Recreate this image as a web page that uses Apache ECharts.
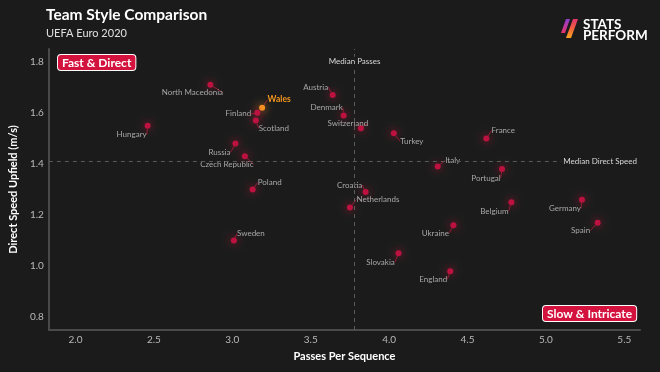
<!DOCTYPE html>
<html><head><meta charset="utf-8">
<script src="https://cdn.jsdelivr.net/npm/echarts@6/dist/echarts.min.js"></script>
<style>html,body{margin:0;padding:0;background:#1b1b1b}#c{width:660px;height:372px}</style>
</head><body><div id="c"></div>
<script>
var teams = ['North Macedonia','Wales','Finland','Scotland','Hungary','Austria','Denmark','Switzerland','Turkey','France','Russia','Czech Republic','Italy','Portugal','Poland','Croatia','Netherlands','Belgium','Germany','Spain','Ukraine','Sweden','Slovakia','England'];
var passesPerSequence = [2.86,3.19,3.16,3.15,2.46,3.64,3.71,3.82,4.03,4.62,3.02,3.08,4.31,4.72,3.13,3.85,3.75,4.78,5.23,5.33,4.41,3.01,4.06,4.39];
var directSpeed = [1.71,1.62,1.60,1.57,1.55,1.67,1.59,1.54,1.52,1.50,1.48,1.43,1.39,1.38,1.30,1.29,1.23,1.25,1.26,1.17,1.16,1.10,1.05,0.98];
var medianPasses = 3.78;
var medianSpeed = 1.41;
var xTicks = [2.0,2.5,3.0,3.5,4.0,4.5,5.0,5.5];
var yTicks = [0.8,1.0,1.2,1.4,1.6,1.8];
var highlight = 'Wales';

// label offsets (px) from each dot to its label centre
var labelOffsets = {
 'North Macedonia':[-18,8],'Wales':[17,-8],'Finland':[-19,1],'Scotland':[18,8],'Hungary':[-16,9],
 'Austria':[-17,-8],'Denmark':[-17,-8],'Switzerland':[-13,-5],'Turkey':[18,8],'France':[17,-8],
 'Russia':[-16,9],'Czech Republic':[-18,8],'Italy':[15,-6],'Portugal':[-16,9],'Poland':[17,-7],
 'Croatia':[-16,-7],'Netherlands':[28,-8],'Belgium':[-17,9],'Germany':[-17,9],'Spain':[-17,8],
 'Ukraine':[-18,8],'Sweden':[17,-7],'Slovakia':[-18,9],'England':[-17,8]
};

var FONT = 'Lato, "Open Sans", sans-serif';
var data = teams.map(function(n,i){
  var item = {name:n, value:[passesPerSequence[i], directSpeed[i]]};
  if(n===highlight){
    item.itemStyle = {color:'#f7961f', shadowColor:'rgba(255,150,30,0.9)', shadowBlur:8};
    item.label = {color:'#f7961f', fontWeight:'bold', fontSize:8.5};
    item.z = 10;
  }
  return item;
});

var chart = echarts.init(document.getElementById('c'));
chart.setOption({
  backgroundColor:'#1b1b1b',
  animation:false,
  textStyle:{fontFamily:FONT},
  grid:{left:46, right:20, top:49, bottom:42},
  xAxis:{type:'value', min:1.83, max:5.6,
    name:'Passes Per Sequence', nameLocation:'middle', nameGap:21,
    nameTextStyle:{color:'#ffffff', fontWeight:'bold', fontSize:11, fontFamily:FONT},
    axisLine:{show:true, lineStyle:{color:'#4a4a4a', width:2}},
    axisTick:{show:false}, splitLine:{show:false},
    axisLabel:{color:'#b8b8b8', fontSize:10, margin:5, customValues:xTicks, formatter:function(v){return v.toFixed(1);}}
  },
  yAxis:{type:'value', min:0.75, max:1.85,
    name:'Direct Speed Upfield (m/s)', nameLocation:'middle', nameGap:27,
    nameTextStyle:{color:'#ffffff', fontWeight:'bold', fontSize:11, fontFamily:FONT},
    axisLine:{show:true, lineStyle:{color:'#4a4a4a', width:2}},
    axisTick:{show:false}, splitLine:{show:false},
    axisLabel:{color:'#b8b8b8', fontSize:10, margin:5, customValues:yTicks, formatter:function(v){return v.toFixed(1);}}
  },
  series:[{
    type:'scatter', symbolSize:6, data:data,
    itemStyle:{color:'#bd1240', shadowColor:'rgba(210,20,60,0.8)', shadowBlur:9, opacity:1},
    label:{show:true, position:'inside', formatter:'{b}', color:'#a8a8a8', fontSize:8, fontFamily:FONT},
    labelLine:{show:true, length2:0, lineStyle:{color:'rgba(190,30,60,0.7)', width:1}},
    labelLayout:function(p){
      var o = labelOffsets[teams[p.dataIndex]] || [0,0];
      return {dx:o[0], dy:o[1]};
    },
    markLine:{silent:true, symbol:'none',
      lineStyle:{color:'#5a5a5a', type:[4,4], width:1},
      label:{show:false},
      data:[{xAxis:medianPasses},{yAxis:medianSpeed}]
    },
    markPoint:{silent:true, symbol:'circle', symbolSize:0,
      data:[
        {coord:[medianPasses,1.8], label:{show:true, position:'inside', formatter:'Median Passes', color:'#d8d8d8', fontSize:8, backgroundColor:'#1b1b1b', padding:[1,2]}},
        {coord:[5.6,medianSpeed], label:{show:true, position:'inside', align:'right', offset:[-1,0], formatter:'Median Direct Speed', color:'#d8d8d8', fontSize:8, backgroundColor:'#1b1b1b', padding:[1,2]}}
      ]
    }
  }],
  graphic:[
    {type:'text', left:46, top:7, style:{text:'Team Style Comparison', fill:'#ffffff', font:'bold 15.5px '+FONT}},
    {type:'text', left:46, top:28, style:{text:'UEFA Euro 2020', fill:'#e0e0e0', font:'11px '+FONT}},
    {type:'text', left:57, top:54, style:{text:'Fast & Direct', fill:'#ffffff', font:'bold 12px '+FONT, backgroundColor:'#d4123e', borderColor:'#ffffff', borderWidth:1, borderRadius:3, padding:[2,4,1,4]}},
    {type:'text', left:542, top:305, style:{text:'Slow & Intricate', fill:'#ffffff', font:'bold 12px '+FONT, backgroundColor:'#d4123e', borderColor:'#ffffff', borderWidth:1, borderRadius:3, padding:[2,4,1,4]}},
    {type:'polygon', shape:{points:[[566,19],[570,19],[565,33],[561,33]]},
      style:{fill:new echarts.graphic.LinearGradient(0,0,0,1,[{offset:0,color:'#8c3fd0'},{offset:1,color:'#e8336b'}])}},
    {type:'polygon', shape:{points:[[573,19],[578,19],[571,38],[566,38]]},
      style:{fill:new echarts.graphic.LinearGradient(0,0,0,1,[{offset:0,color:'#e0336e'},{offset:0.5,color:'#f2613e'},{offset:1,color:'#f9a81c'}])}},
    {type:'text', left:583, top:18, style:{text:'STATS', fill:'#ffffff', font:'bold 13.5px '+FONT}},
    {type:'text', left:583, top:29, style:{text:'PERFORM', fill:'#ffffff', font:'bold 13.5px '+FONT}}
  ]
});
</script></body></html>
